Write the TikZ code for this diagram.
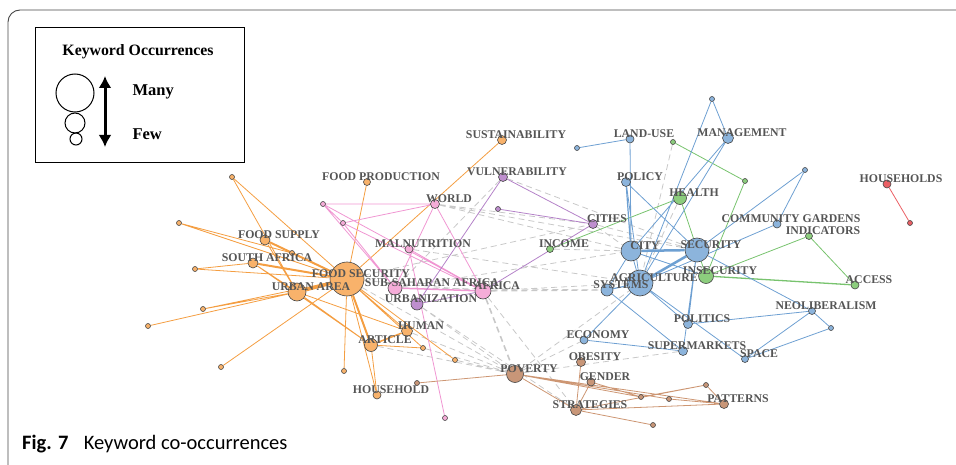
\documentclass[tikz,border=0pt]{standalone}
\usepackage{fontspec}
\setmainfont{Liberation Serif}
\newfontfamily\capfont{Carlito}
\usetikzlibrary{arrows.meta,backgrounds}

\definecolor{oline}{RGB}{244,158,66}
\definecolor{ofill}{RGB}{248,178,107}
\definecolor{pline}{RGB}{240,150,210}
\definecolor{pfill}{RGB}{245,172,216}
\definecolor{uline}{RGB}{180,130,200}
\definecolor{ufill}{RGB}{190,142,206}
\definecolor{gline}{RGB}{120,195,110}
\definecolor{gfill}{RGB}{140,205,125}
\definecolor{bline}{RGB}{110,160,210}
\definecolor{bfill}{RGB}{140,180,220}
\definecolor{rline}{RGB}{205,150,115}
\definecolor{rfill}{RGB}{200,150,120}
\definecolor{hline}{RGB}{235,95,100}
\definecolor{dline}{RGB}{200,200,200}
\definecolor{nodeline}{RGB}{70,70,70}
\definecolor{labgray}{RGB}{85,85,85}

\begin{document}
\begin{tikzpicture}[x=1pt,y=-1pt,
  kw/.style={circle,draw=nodeline,line width=0.6pt,inner sep=0pt,minimum size=#1},
  onode/.style={kw=#1,fill=ofill}, pnode/.style={kw=#1,fill=pfill},
  unode/.style={kw=#1,fill=ufill}, gnode/.style={kw=#1,fill=gfill},
  bnode/.style={kw=#1,fill=bfill}, rnode/.style={kw=#1,fill=rfill},
  hnode/.style={kw=#1,fill=hline},
  oedge/.style={oline,line width=0.8pt}, pedge/.style={pline,line width=0.8pt},
  uedge/.style={uline,line width=0.8pt}, gedge/.style={gline,line width=0.8pt},
  bedge/.style={bline,line width=0.8pt}, redge/.style={rline,line width=0.8pt},
  dedge/.style={dline,line width=0.8pt,dash pattern=on 6pt off 4pt},
  kwlabel/.style={font=\bfseries\fontsize{11.8}{12}\selectfont,text=labgray,
    inner sep=0pt,xshift=14pt,yshift=5pt}]
\useasboundingbox (0,0) rectangle (956,465);

% frame
\draw[nodeline,line width=0.9pt,rounded corners=12pt] (956,10) -- (8,10) -- (8,465);

% legend
\draw[line width=0.8pt] (35,27) rectangle (244,162);
\node[font=\bfseries\fontsize{15.8}{16}\selectfont] (leg-title) at (138,52) {Keyword Occurrences};
\node[circle,draw,line width=1pt,minimum size=38pt,inner sep=0pt] (leg-big) at (75,93) {};
\node[circle,draw,line width=1pt,minimum size=20pt,inner sep=0pt] (leg-mid) at (75,123) {};
\node[circle,draw,line width=1pt,minimum size=12pt,inner sep=0pt] (leg-small) at (76,139) {};
\coordinate (arr-top) at (105,76);
\coordinate (arr-bot) at (105,147);
\draw[line width=3pt,{Latex[length=12pt,width=13pt]}-{Latex[length=12pt,width=13pt]}] (arr-top) -- (arr-bot);
\node[font=\bfseries\fontsize{16.5}{17}\selectfont,anchor=west] (leg-many) at (129,92) {Many};
\node[font=\bfseries\fontsize{16.5}{17}\selectfont,anchor=west] (leg-few) at (129,134) {Few};

% keywords
\node[onode=34pt] (fs) at (347,279) {};
\node[onode=18pt] (ua) at (297,292) {};
\node[onode=10pt] (fsup) at (265,240) {};
\node[onode=10pt] (safr) at (253,263) {};
\node[onode=7pt] (fprod) at (367,182) {};
\node[onode=9pt] (sust) at (502,140) {};
\node[onode=11pt] (hum) at (407,331) {};
\node[onode=13pt] (art) at (371,345) {};
\node[onode=8pt] (hh) at (377,395) {};
\node[onode=5pt] (o1) at (232,177) {};
\node[onode=5pt] (o2) at (179,223) {};
\node[onode=5pt] (o3) at (292,253) {};
\node[onode=5pt] (o4) at (195,269) {};
\node[onode=5pt] (o5) at (203,309) {};
\node[onode=5pt] (o6) at (148,326) {};
\node[onode=5pt] (o7) at (221,367) {};
\node[onode=5pt] (o8) at (344,371) {};
\node[onode=5pt] (o9) at (423,348) {};
\node[onode=5pt] (o10) at (455,360) {};

\node[pnode=9pt] (world) at (435,204) {};
\node[pnode=8pt] (maln) at (409,249) {};
\node[pnode=14pt] (ssa) at (395,288) {};
\node[pnode=16pt] (afr) at (483,291) {};
\node[pnode=5pt] (p1) at (323,204) {};
\node[pnode=5pt] (p2) at (343,223) {};
\node[pnode=5pt] (p3) at (445,418) {};

\node[unode=9pt] (vuln) at (503,177) {};
\node[unode=12pt] (urb) at (417,304) {};
\node[unode=9pt] (cities) at (593,224) {};
\node[unode=5pt] (u1) at (498,209) {};

\node[gnode=7pt] (inc) at (550,249) {};
\node[gnode=13pt] (health) at (680,198) {};
\node[gnode=15pt] (insec) at (706,276) {};
\node[gnode=7pt] (indic) at (809,236) {};
\node[gnode=8pt] (access) at (855,285) {};
\node[gnode=5pt] (g1) at (673,142) {};
\node[gnode=5pt] (g2) at (745,181) {};

\node[bnode=8pt] (land) at (630,139) {};
\node[bnode=11pt] (mgmt) at (728,138) {};
\node[bnode=9pt] (policy) at (626,182) {};
\node[bnode=20pt] (city) at (631,251) {};
\node[bnode=24pt] (sec) at (697,250) {};
\node[bnode=26pt] (agri) at (640,283) {};
\node[bnode=12pt] (sys) at (607,290) {};
\node[bnode=8pt] (cg) at (777,224) {};
\node[bnode=8pt] (econ) at (584,340) {};
\node[bnode=9pt] (pol) at (688,324) {};
\node[bnode=9pt] (smk) at (683,351) {};
\node[bnode=7pt] (space) at (745,359) {};
\node[bnode=7pt] (neo) at (812,311) {};
\node[bnode=5pt] (b1) at (577,148) {};
\node[bnode=5pt] (b2) at (712,99) {};
\node[bnode=5pt] (b3) at (805,170) {};
\node[bnode=5pt] (b4) at (831,328) {};

\node[rnode=17pt] (pov) at (515,374) {};
\node[rnode=9pt] (obes) at (581,362) {};
\node[rnode=8pt] (gend) at (591,382) {};
\node[rnode=11pt] (strat) at (576,410) {};
\node[rnode=9pt] (pat) at (724,404) {};
\node[rnode=5pt] (r1) at (417,383) {};
\node[rnode=5pt] (r2) at (641,397) {};
\node[rnode=5pt] (r3) at (669,399) {};
\node[rnode=5pt] (r4) at (706,385) {};
\node[rnode=5pt] (r5) at (653,425) {};

\node[hnode=8pt] (hhs) at (887,184) {};
\node[hnode=5pt] (h1) at (910,223) {};

% links
\begin{pgfonlayer}{background}
\draw[dedge] (fs) -- (afr) (fs) -- (cities) (fs) -- (pov) (ssa) -- (sys) (afr) -- (agri)
  (world) -- (city) (world) -- (sec) (vuln) -- (sec) (vuln) -- (ssa) (g1) -- (agri)
  (health) -- (agri) (urb) -- (pov) (hum) -- (pov) (art) -- (pov) (o10) -- (pov)
  (o9) -- (pov) (pov) -- (econ) (pov) -- (smk) (pov) -- (agri) (urb) -- (strat)
  (inc) -- (city) (cities) -- (sec) (cities) -- (city) (maln) -- (agri) (world) -- (cities)
  (afr) -- (strat) (ssa) -- (city);
\draw[dedge,line width=1.6pt] (afr) -- (pov);
\draw[dedge,line width=1.2pt] (afr) -- (sys);

\draw[oedge] (o1) -- (fs) (o1) -- (ua) (o2) -- (o3) (o2) -- (fs) (fsup) -- (ua)
  (o3) -- (fs) (safr) -- (ua) (safr) -- (art) (o4) -- (fs) (o4) -- (safr)
  (o5) -- (ua) (o5) -- (fs) (o6) -- (ua) (o7) -- (fs) (o8) -- (fs) (fs) -- (hum)
  (fs) -- (hh) (fs) -- (o9) (fs) -- (o10) (fs) -- (fprod) (fs) -- (sust)
  (art) -- (o9) (art) -- (hh) (ua) -- (hum) (ua) -- (art);
\draw[oedge,line width=2pt] (fsup) -- (fs) (safr) -- (fs) (art) -- (fs);
\draw[oedge,line width=1.5pt] (hum) -- (art);
\draw[oedge,line width=3.5pt] (ua) -- (fs);

\draw[pedge] (p1) -- (world) (p1) -- (p2) (p1) -- (afr) (p1) -- (ssa) (p2) -- (world)
  (p2) -- (afr) (p2) -- (ssa) (world) -- (afr) (world) -- (ssa) (maln) -- (p3)
  (maln) -- (afr);
\draw[pedge,line width=1.5pt] (ssa) -- (afr);

\draw[uedge] (vuln) -- (cities) (vuln) -- (urb) (u1) -- (cities) (cities) -- (afr)
  (urb) -- (afr);

\draw[gedge] (inc) -- (health) (g1) -- (g2) (g2) -- (insec) (health) -- (insec)
  (insec) -- (indic) (indic) -- (access);
\draw[gedge,line width=1.3pt] (insec) -- (access);

\draw[bedge] (b1) -- (land) (land) -- (city) (policy) -- (agri) (policy) -- (sec)
  (b2) -- (agri) (b2) -- (mgmt) (mgmt) -- (city) (mgmt) -- (agri) (b3) -- (sec)
  (b3) -- (cg) (cg) -- (agri) (city) -- (agri) (sys) -- (city) (econ) -- (agri)
  (econ) -- (smk) (sys) -- (smk) (pol) -- (agri) (pol) -- (sec) (pol) -- (neo)
  (neo) -- (space) (neo) -- (b4) (b4) -- (space) (neo) -- (sec) (space) -- (agri)
  (sec) -- (smk) (city) -- (insec);
\draw[bedge,line width=1.2pt] (policy) -- (city) (sys) -- (agri);
\draw[bedge,line width=2.5pt] (city) -- (sec) (agri) -- (sec);

\draw[redge] (r1) -- (pov) (pov) -- (r2) (pov) -- (r3) (pov) -- (strat) (pov) -- (pat)
  (obes) -- (strat) (gend) -- (strat) (gend) -- (r2) (strat) -- (r4) (strat) -- (pat)
  (strat) -- (r5) (r2) -- (r4) (r3) -- (pat) (r4) -- (pat);

\draw[hline,line width=0.8pt] (hhs) -- (h1);
\end{pgfonlayer}

% keyword labels
\node[kwlabel] (fs-t) at (fs) {FOOD SECURITY};
\node[kwlabel] (ua-t) at (ua) {URBAN AREA};
\node[kwlabel] (fsup-t) at (fsup) {FOOD SUPPLY};
\node[kwlabel] (safr-t) at (safr) {SOUTH AFRICA};
\node[kwlabel] (fprod-t) at (fprod) {FOOD PRODUCTION};
\node[kwlabel] (sust-t) at (sust) {SUSTAINABILITY};
\node[kwlabel] (hum-t) at (hum) {HUMAN};
\node[kwlabel] (art-t) at (art) {ARTICLE};
\node[kwlabel] (hh-t) at (hh) {HOUSEHOLD};
\node[kwlabel] (world-t) at (world) {WORLD};
\node[kwlabel] (maln-t) at (maln) {MALNUTRITION};
\node[kwlabel,xshift=23pt] (ssa-t) at (ssa) {SUB-SAHARAN AFRICA};
\node[kwlabel] (afr-t) at (afr) {AFRICA};
\node[kwlabel] (vuln-t) at (vuln) {VULNERABILITY};
\node[kwlabel] (urb-t) at (urb) {URBANIZATION};
\node[kwlabel] (cities-t) at (cities) {CITIES};
\node[kwlabel] (inc-t) at (inc) {INCOME};
\node[kwlabel] (health-t) at (health) {HEALTH};
\node[kwlabel] (insec-t) at (insec) {INSECURITY};
\node[kwlabel] (indic-t) at (indic) {INDICATORS};
\node[kwlabel] (access-t) at (access) {ACCESS};
\node[kwlabel] (land-t) at (land) {LAND-USE};
\node[kwlabel] (mgmt-t) at (mgmt) {MANAGEMENT};
\node[kwlabel] (policy-t) at (policy) {POLICY};
\node[kwlabel] (city-t) at (city) {CITY};
\node[kwlabel] (sec-t) at (sec) {SECURITY};
\node[kwlabel] (agri-t) at (agri) {AGRICULTURE};
\node[kwlabel] (sys-t) at (sys) {SYSTEMS};
\node[kwlabel] (cg-t) at (cg) {COMMUNITY GARDENS};
\node[kwlabel] (econ-t) at (econ) {ECONOMY};
\node[kwlabel] (pol-t) at (pol) {POLITICS};
\node[kwlabel] (smk-t) at (smk) {SUPERMARKETS};
\node[kwlabel] (space-t) at (space) {SPACE};
\node[kwlabel] (neo-t) at (neo) {NEOLIBERALISM};
\node[kwlabel] (pov-t) at (pov) {POVERTY};
\node[kwlabel] (obes-t) at (obes) {OBESITY};
\node[kwlabel] (gend-t) at (gend) {GENDER};
\node[kwlabel] (strat-t) at (strat) {STRATEGIES};
\node[kwlabel] (pat-t) at (pat) {PATTERNS};
\node[kwlabel] (hhs-t) at (hhs) {HOUSEHOLDS};

% caption
\node[anchor=base west,inner sep=0pt,font=\capfont\fontsize{20.5}{21}\selectfont] (caption) at (22,449)
  {\textbf{Fig. 7}\hspace{0.75em}Keyword co-occurrences};
\end{tikzpicture}
\end{document}
